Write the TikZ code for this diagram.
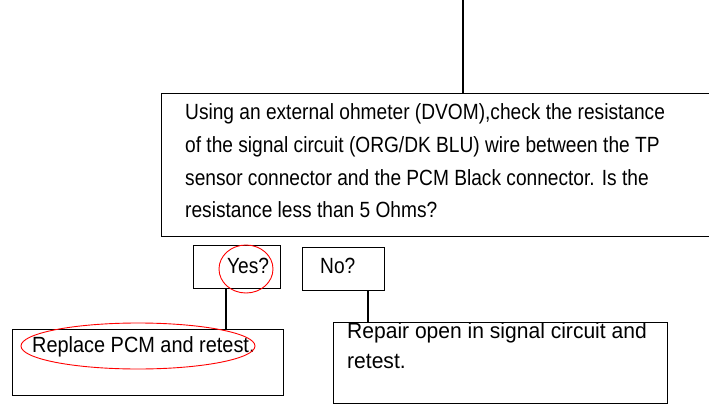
\documentclass[tikz,border=0pt]{standalone}
\usepackage{fontspec}
\usepackage{graphicx}
\setmainfont[FakeStretch=0.87]{Liberation Sans}
\begin{document}
\begin{tikzpicture}[x=1pt,y=-1pt,
  box/.style={draw=black,line width=1.4pt,anchor=north west,inner sep=0pt},
  lbl/.style={anchor=base west,inner sep=0pt,font=\fontsize{22}{33}\selectfont},
  conn/.style={draw=black,line width=1.4pt},
  redmark/.style={draw=red,line width=0.9pt}]
\useasboundingbox (0,0) rectangle (709,404);
\fill[white] (0,0) rectangle (709,404);
% boxes
\node[box,minimum width=555pt,minimum height=143pt] (main) at (161,93) {};
\node[box,minimum width=87pt,minimum height=43pt] (yes) at (193,245) {};
\node[box,minimum width=82pt,minimum height=43pt] (no) at (302,247) {};
\node[box,minimum width=271pt,minimum height=66pt] (repl) at (12,329) {};
\node[box,minimum width=334pt,minimum height=81pt] (rep) at (333,322) {};
\coordinate (top) at (463,0);
% texts
\node[lbl] (t1) at (185,119) {Using an external ohmeter (DVOM),check the resistance};
\node[lbl] (t2) at (185,152) {of the signal circuit (ORG/DK BLU) wire between the TP};
\node[lbl] (t3) at (185,185) {sensor connector and the PCM Black connector. Is the};
\node[lbl] (t4) at (185,217) {resistance less than 5 Ohms?};
\node[lbl] (ty) at (227,273) {Yes?};
\node[lbl] (tn) at (320,273) {No?};
\node[lbl] (tr) at (32,352) {\scalebox{1.04}[1]{Replace PCM and retest.}};
\node[lbl] (tp1) at (347,338) {\scalebox{1.10}[1]{Repair open in signal circuit and}};
\node[lbl] (tp2) at (347,368) {\scalebox{1.10}[1]{retest.}};
% connectors
\draw[conn] (top) -- (top |- main.north);
\draw[conn] (yes.south -| 226,0) -- (repl.north -| 226,0);
\draw[conn] (no.south -| 368,0) -- (rep.north -| 368,0);
% red marks
\draw[redmark] (246,269) ellipse [x radius=27, y radius=24];
\draw[redmark] (138,346) ellipse [x radius=117, y radius=23];
\end{tikzpicture}
\end{document}
